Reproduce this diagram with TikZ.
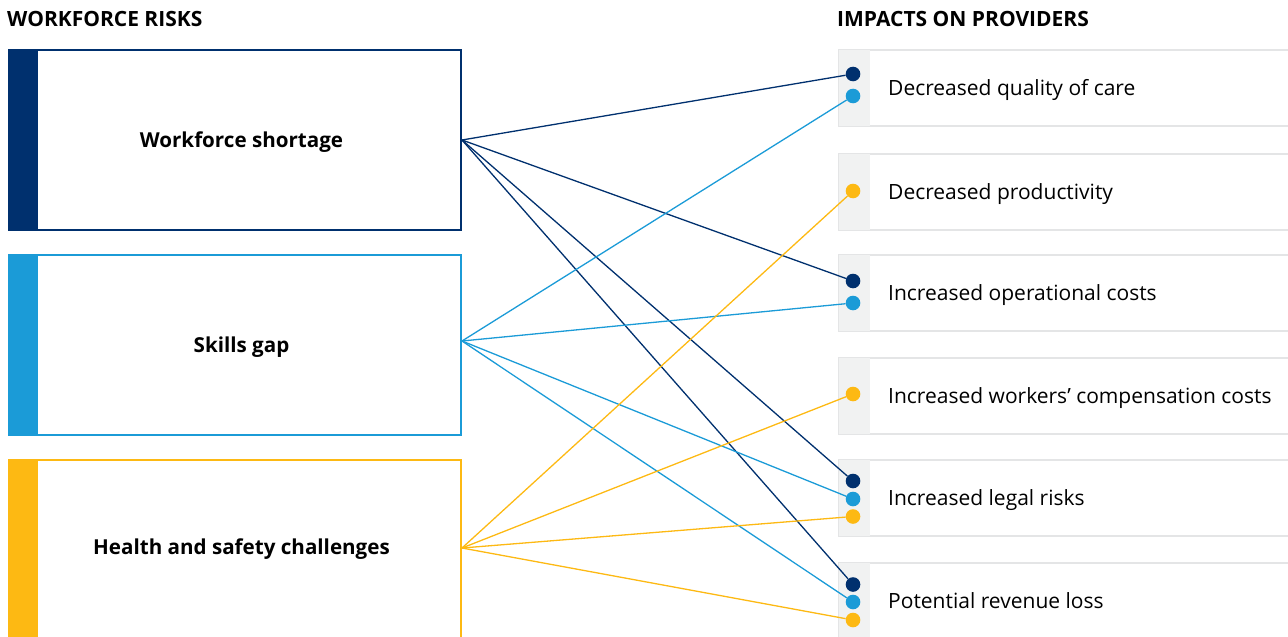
\documentclass[tikz,border=0pt]{standalone}
\usepackage{fontspec}
\setmainfont{Open Sans}[BoldFont={* Bold}]
\usetikzlibrary{calc}
\definecolor{navy}{HTML}{00306E}
\definecolor{sky}{HTML}{1B9BD7}
\definecolor{amber}{HTML}{FDB913}
\definecolor{stripgrey}{HTML}{F1F2F2}
\definecolor{cardline}{HTML}{E4E5E6}
\begin{document}
\begin{tikzpicture}[x=1pt,y=-1pt,
  heading/.style={anchor=base west,inner sep=0,font=\fontsize{21}{24}\selectfont\bfseries},
  riskbox/.style={draw=#1,line width=2pt,fill=white,minimum width=452pt,minimum height=180pt,inner sep=0,anchor=north west},
  risktext/.style={anchor=base,inner sep=0,font=\fontsize{20.6}{24}\selectfont\bfseries},
  card/.style={draw=cardline,line width=1.5pt,fill=white,minimum width=470pt,minimum height=76pt,inner sep=0,anchor=north west},
  cardtext/.style={anchor=base west,inner sep=0,font=\fontsize{21}{24}\selectfont},
  dot/.style={circle,fill=#1,minimum size=14.6pt,inner sep=0},
  link/.style={draw=#1,line width=1.3pt}]
\useasboundingbox (0,0) rectangle (1288,637);
\clip (0,0) rectangle (1288,637);

% column headings
\node[heading] (hl) at (7,26) {WORKFORCE RISKS};
\node[heading] (hr) at (837,26) {IMPACTS ON PROVIDERS};

% risk boxes with coloured side bars
\node[riskbox=navy] (ws) at (8,49) {};
\fill[navy] (ws.north west) rectangle ($(ws.south west)+(30,0)$);
\node[risktext] (wst) at (241.5,147.3) {Workforce shortage};

\node[riskbox=sky] (sg) at (8,254) {};
\fill[sky] (sg.north west) rectangle ($(sg.south west)+(30,0)$);
\node[risktext] (sgt) at (241.5,352.3) {Skills gap};

\node[riskbox=amber] (hs) at (8,459) {};
\fill[amber] (hs.north west) rectangle ($(hs.south west)+(30,0)$);
\node[risktext] (hst) at (241.5,554.5) {Health and safety challenges};

% impact cards
\foreach \n/\top/\txt in {1/49/Decreased quality of care,
                          2/153/Decreased productivity,
                          3/254/Increased operational costs,
                          4/357/Increased workers’ compensation costs,
                          5/459/Increased legal risks,
                          6/562/Potential revenue loss}{
  \node[card] (c\n) at (838,\top) {};
  \fill[stripgrey] ($(c\n.north west)+(0.75,0.75)$) rectangle ($(c\n.south west)+(32,-0.75)$);
  \node[cardtext] (c\n t) at (888,\top+46.3) {\txt};
}

% connector end dots
\node[dot=navy]  (d1n) at (853,74) {};
\node[dot=sky]   (d1s) at (853,96) {};
\node[dot=amber] (d2a) at (853,191) {};
\node[dot=navy]  (d3n) at (853,281) {};
\node[dot=sky]   (d3s) at (853,303) {};
\node[dot=amber] (d4a) at (853,394) {};
\node[dot=navy]  (d5n) at (853,481) {};
\node[dot=sky]   (d5s) at (853,499) {};
\node[dot=amber] (d5a) at (853,516.5) {};
\node[dot=navy]  (d6n) at (853,584.5) {};
\node[dot=sky]   (d6s) at (853,602) {};
\node[dot=amber] (d6a) at (853,620) {};

% links from each risk to its impacts
\coordinate (wsx) at ($(ws.east)+(0,0)$);
\coordinate (sgx) at ($(sg.east)+(0,-4)$);
\coordinate (hsx) at ($(hs.east)+(0,-2)$);
\foreach \d in {d1n,d3n,d5n,d6n} \path[link=navy] (wsx) -- (\d);
\foreach \d in {d1s,d3s,d5s,d6s} \path[link=sky] (sgx) -- (\d);
\foreach \d in {d2a,d4a,d5a,d6a} \path[link=amber] (hsx) -- (\d);
\end{tikzpicture}
\end{document}
